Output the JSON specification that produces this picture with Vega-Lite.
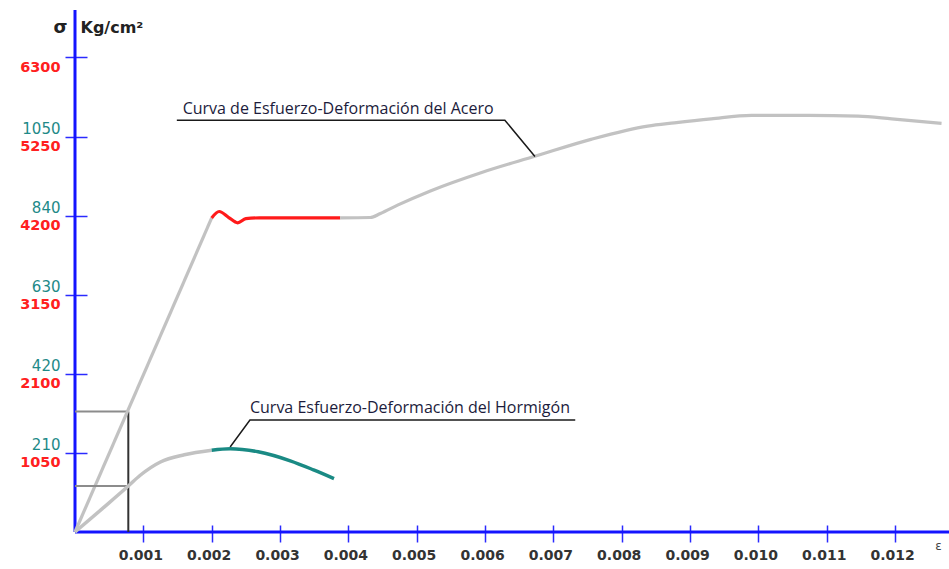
{
  "$schema": "https://vega.github.io/schema/vega-lite/v6.json",
  "width": 874,
  "height": 522,
  "autosize": {"type": "none"},
  "padding": {"left": 75, "top": 10, "right": 0, "bottom": 37},
  "background": "white",
  "config": {"view": {"stroke": null}},
  "datasets": {
    "acero": [
      {"eps": 0, "sig": 0, "tramo": "elástico"},
      {"eps": 0.002, "sig": 4170, "tramo": "elástico"},
      {"eps": 0.002, "sig": 4170, "tramo": "fluencia"},
      {"eps": 0.00211, "sig": 4255, "tramo": "fluencia"},
      {"eps": 0.00225, "sig": 4175, "tramo": "fluencia"},
      {"eps": 0.00238, "sig": 4105, "tramo": "fluencia"},
      {"eps": 0.0025, "sig": 4160, "tramo": "fluencia"},
      {"eps": 0.0027, "sig": 4170, "tramo": "fluencia"},
      {"eps": 0.00388, "sig": 4170, "tramo": "fluencia"},
      {"eps": 0.00388, "sig": 4170, "tramo": "endurecimiento"},
      {"eps": 0.00432, "sig": 4175, "tramo": "endurecimiento"},
      {"eps": 0.00447, "sig": 4229, "tramo": "endurecimiento"},
      {"eps": 0.00472, "sig": 4339, "tramo": "endurecimiento"},
      {"eps": 0.0052, "sig": 4528, "tramo": "endurecimiento"},
      {"eps": 0.00594, "sig": 4770, "tramo": "endurecimiento"},
      {"eps": 0.00674, "sig": 4991, "tramo": "endurecimiento"},
      {"eps": 0.00755, "sig": 5213, "tramo": "endurecimiento"},
      {"eps": 0.00838, "sig": 5389, "tramo": "endurecimiento"},
      {"eps": 0.00877, "sig": 5432, "tramo": "endurecimiento"},
      {"eps": 0.00931, "sig": 5485, "tramo": "endurecimiento"},
      {"eps": 0.0099, "sig": 5530, "tramo": "endurecimiento"},
      {"eps": 0.01073, "sig": 5530, "tramo": "endurecimiento"},
      {"eps": 0.01146, "sig": 5521, "tramo": "endurecimiento"},
      {"eps": 0.01195, "sig": 5485, "tramo": "endurecimiento"},
      {"eps": 0.01268, "sig": 5424, "tramo": "endurecimiento"}
    ],
    "hormigon": [
      {"eps": 0, "sig": 0, "tramo": "ascendente"},
      {"eps": 0.0004, "sig": 62, "tramo": "ascendente"},
      {"eps": 0.00078, "sig": 122, "tramo": "ascendente"},
      {"eps": 0.00095, "sig": 150, "tramo": "ascendente"},
      {"eps": 0.00125, "sig": 186, "tramo": "ascendente"},
      {"eps": 0.0016, "sig": 205, "tramo": "ascendente"},
      {"eps": 0.002, "sig": 217, "tramo": "ascendente"},
      {"eps": 0.002, "sig": 217, "tramo": "descendente"},
      {"eps": 0.00227, "sig": 221, "tramo": "descendente"},
      {"eps": 0.00268, "sig": 213, "tramo": "descendente"},
      {"eps": 0.00315, "sig": 189, "tramo": "descendente"},
      {"eps": 0.00349, "sig": 165, "tramo": "descendente"},
      {"eps": 0.00379, "sig": 142, "tramo": "descendente"}
    ],
    "lideres": [
      {"curva": "acero", "k": 0, "eps": 0.00149, "sig": 5467},
      {"curva": "acero", "k": 1, "eps": 0.00629, "sig": 5467},
      {"curva": "acero", "k": 2, "eps": 0.00673, "sig": 4985},
      {"curva": "hormigon", "k": 0, "eps": 0.00732, "sig": 1486},
      {"curva": "hormigon", "k": 1, "eps": 0.00256, "sig": 1486},
      {"curva": "hormigon", "k": 2, "eps": 0.00227, "sig": 1128}
    ],
    "rotulos": [
      {"eps": 0.001575, "sig": 5622, "texto": "Curva de Esfuerzo-Deformación del Acero"},
      {"eps": 0.00256, "sig": 1649, "texto": "Curva Esfuerzo-Deformación del Hormigón"}
    ]
  },
  "resolve": {"scale": {"y": "independent", "color": "independent"}, "axis": {"y": "independent"}},
  "layer": [
    {
      "layer": [
        {
          "data": {"values": [{}]},
          "mark": {"type": "rule", "color": "#1414ff", "strokeWidth": 3},
          "encoding": {
            "x": {"datum": 0, "type": "quantitative", "scale": {"domain": [0, 0.012789]},
              "axis": {
                "values": [0.001, 0.002, 0.003, 0.004, 0.005, 0.006, 0.007, 0.008, 0.009, 0.010, 0.011, 0.012],
                "format": ".3f", "offset": -7, "domain": false, "grid": false,
                "tickSize": 17, "tickColor": "#2a2aff", "tickWidth": 1.5,
                "labelColor": "#333333", "labelFont": "DejaVu Sans", "labelFontWeight": "bold", "labelFontSize": 14,
                "labelPadding": 6, "labelOffset": -3, "labelFlush": false, "labelOverlap": false,
                "title": "ε", "titleX": 863, "titleY": 20, "titleAlign": "center", "titleBaseline": "middle",
                "titleFont": "DejaVu Sans", "titleFontSize": 12, "titleFontWeight": "normal", "titleColor": "#444444"
              }
            }
          }
        },
        {
          "data": {"values": [{}]},
          "mark": {"type": "rule", "color": "#1414ff", "strokeWidth": 3},
          "encoding": {
            "y": {"datum": 0, "type": "quantitative", "scale": {"domain": [0, 6930]},
              "axis": {
                "values": [1050, 2100, 3150, 4200, 5250, 6300],
                "format": "d", "offset": -12, "domain": false, "grid": false,
                "tickSize": 22, "tickColor": "#2a2aff", "tickWidth": 1.5,
                "labelColor": "#ff2020", "labelFont": "DejaVu Sans", "labelFontWeight": "bold", "labelFontSize": 14.5,
                "labelPadding": 5, "labelBaseline": "top", "labelOffset": 3,
                "title": "σ", "titleAngle": 0, "titleX": -27, "titleY": 17, "titleAlign": "center", "titleBaseline": "middle",
                "titleFont": "DejaVu Sans", "titleFontSize": 18, "titleFontWeight": "bold", "titleColor": "#222222"
              }
            }
          }
        },
        {
          "data": {"values": [{"eps": 0, "eps2": 0.00078, "sig": 1600}]},
          "mark": {"type": "rule", "color": "#8c8c8c", "strokeWidth": 2},
          "encoding": {
            "x": {"field": "eps", "type": "quantitative", "scale": {"domain": [0, 0.012789]}},
            "x2": {"field": "eps2"},
            "y": {"field": "sig", "type": "quantitative", "scale": {"domain": [0, 6930]}}
          }
        },
        {
          "data": {"values": [{"eps": 0.00078, "sig": 0, "sig2": 1600}]},
          "mark": {"type": "rule", "color": "#333333", "strokeWidth": 2},
          "encoding": {
            "x": {"field": "eps", "type": "quantitative", "scale": {"domain": [0, 0.012789]}},
            "y": {"field": "sig", "type": "quantitative", "scale": {"domain": [0, 6930]}},
            "y2": {"field": "sig2"}
          }
        },
        {
          "data": {"name": "acero"},
          "mark": {"type": "line", "interpolate": "monotone", "strokeWidth": 3.2},
          "encoding": {
            "x": {"field": "eps", "type": "quantitative", "scale": {"domain": [0, 0.012789]}},
            "y": {"field": "sig", "type": "quantitative", "scale": {"domain": [0, 6930]}},
            "color": {"field": "tramo", "type": "nominal",
              "scale": {"domain": ["elástico", "fluencia", "endurecimiento"], "range": ["#c2c2c2", "#ff1a1a", "#c2c2c2"]},
              "legend": null}
          }
        },
        {
          "data": {"name": "lideres"},
          "mark": {"type": "line", "color": "#1a1a1a", "strokeWidth": 1.5},
          "encoding": {
            "x": {"field": "eps", "type": "quantitative", "scale": {"domain": [0, 0.012789]}},
            "y": {"field": "sig", "type": "quantitative", "scale": {"domain": [0, 6930]}},
            "detail": {"field": "curva"},
            "order": {"field": "k"}
          }
        },
        {
          "data": {"name": "rotulos"},
          "mark": {"type": "text", "align": "left", "baseline": "middle", "font": "Open Sans", "fontSize": 16, "color": "#1c1c3c"},
          "encoding": {
            "x": {"field": "eps", "type": "quantitative", "scale": {"domain": [0, 0.012789]}},
            "y": {"field": "sig", "type": "quantitative", "scale": {"domain": [0, 6930]}},
            "text": {"field": "texto"}
          }
        }
      ]
    },
    {
      "layer": [
        {
          "data": {"values": [{"eps": 0, "eps2": 0.00078, "sig": 122}]},
          "mark": {"type": "rule", "color": "#8c8c8c", "strokeWidth": 2},
          "encoding": {
            "x": {"field": "eps", "type": "quantitative", "scale": {"domain": [0, 0.012789]}},
            "x2": {"field": "eps2"},
            "y": {"field": "sig", "type": "quantitative", "scale": {"domain": [0, 1386]},
              "axis": {
                "orient": "left", "values": [210, 420, 630, 840, 1050],
                "format": "d", "offset": 0, "domain": false, "ticks": false, "tickSize": 0, "grid": false,
                "labelColor": "#1e8a88", "labelFont": "DejaVu Sans", "labelFontWeight": "normal", "labelFontSize": 15,
                "labelPadding": 15, "labelBaseline": "bottom", "labelOffset": 0,
                "title": "Kg/cm²", "titleAngle": 0, "titleX": 5, "titleY": 17, "titleAlign": "left", "titleBaseline": "middle",
                "titleFont": "DejaVu Sans", "titleFontSize": 16, "titleFontWeight": "bold", "titleColor": "#222222"
              }
            }
          }
        },
        {
          "data": {"name": "hormigon"},
          "mark": {"type": "line", "interpolate": "monotone", "strokeWidth": 3.5},
          "encoding": {
            "x": {"field": "eps", "type": "quantitative", "scale": {"domain": [0, 0.012789]}},
            "y": {"field": "sig", "type": "quantitative", "scale": {"domain": [0, 1386]}},
            "color": {"field": "tramo", "type": "nominal",
              "scale": {"domain": ["ascendente", "descendente"], "range": ["#c2c2c2", "#1a8a84"]},
              "legend": null}
          }
        }
      ]
    }
  ]
}
